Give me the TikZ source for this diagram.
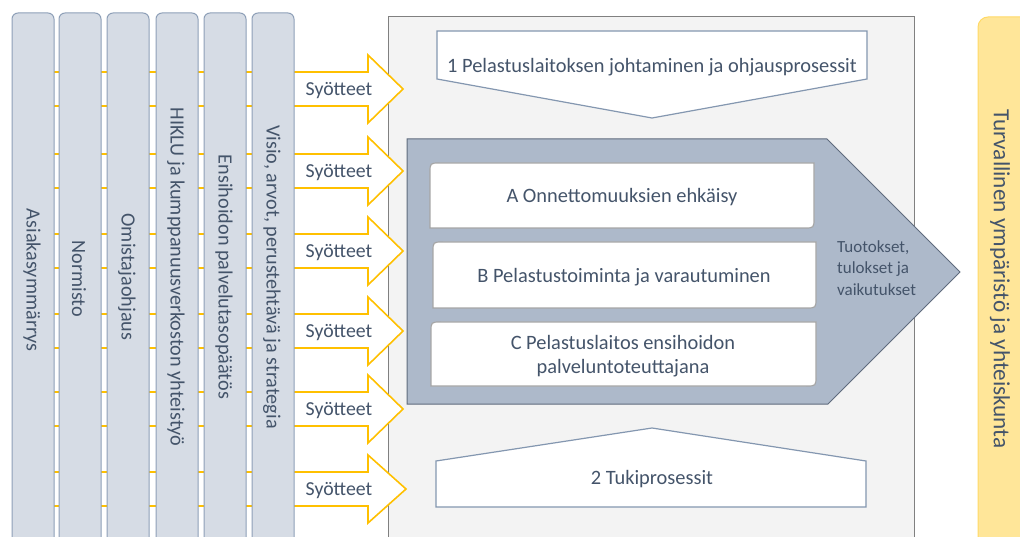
\documentclass[tikz,border=0pt]{standalone}
\usepackage{fontspec}
\setmainfont{Carlito}
\definecolor{txt}{HTML}{44546A}
\definecolor{colfill}{HTML}{D6DCE5}
\definecolor{colline}{HTML}{8EA0B8}
\definecolor{arrowyel}{HTML}{FFC000}
\definecolor{bigfill}{HTML}{F3F3F3}
\definecolor{bigline}{HTML}{808080}
\definecolor{pentline}{HTML}{8497B0}
\definecolor{chevfill}{HTML}{ADB9CA}
\definecolor{chevline}{HTML}{5F6B7D}
\definecolor{boxline}{HTML}{A6A6A6}
\definecolor{outfill}{HTML}{FFE699}
\definecolor{outline}{HTML}{FFD966}
\begin{document}
\begin{tikzpicture}[x=1pt,y=-1pt,
  colbox/.style={fill=colfill, draw=colline, line width=1pt, rounded corners=6pt},
  inarrow/.style={fill=white, draw=arrowyel, line width=1.6pt, line join=miter},
  lbl/.style={text=txt, font=\fontsize{19.8}{23}\selectfont, inner sep=0pt},
  blbl/.style={lbl, font=\fontsize{20.4}{24}\selectfont},
  collbl/.style={lbl, font=\fontsize{20.2}{24}\selectfont, rotate=-90},
  pent/.style={fill=white, draw=pentline, line width=1.2pt, line join=miter},
  inbox/.style={fill=white, draw=boxline, line width=1.2pt}
]
\useasboundingbox (0,0) rectangle (1020,537);
\clip (0,0) rectangle (1020,537);
% big process area
\path[fill=bigfill, draw=bigline, line width=1pt] (388,17) rectangle (914,560);
% input arrows
\foreach \cy/\tx/\n in {89/403/1,171/403/2,251/403/3,331/403/4,409/403/5,489/406/6}{
  \path[inarrow] (30,\cy-17) -- (368,\cy-17) -- (368,\cy-34) -- (\tx,\cy) -- (368,\cy+34) -- (368,\cy+17) -- (30,\cy+17) -- cycle;
  \node[lbl] (syote\n) at (339,\cy+2) {Syötteet};
}
% columns
\path[colbox] (12,560) -- (12,13) -- (54,13) -- (54,560) -- cycle;
\path[colbox] (59,560) -- (59,13) -- (101,13) -- (101,560) -- cycle;
\path[colbox] (107,560) -- (107,13) -- (149,13) -- (149,560) -- cycle;
\path[colbox] (156,560) -- (156,13) -- (198,13) -- (198,560) -- cycle;
\path[colbox] (204,560) -- (204,13) -- (246,13) -- (246,560) -- cycle;
\path[colbox] (252,560) -- (252,13) -- (294,13) -- (294,560) -- cycle;
\node[collbl] (c1) at (32,280) {Asiakasymmärrys};
\node[collbl] (c2) at (79,279) {Normisto};
\node[collbl] (c3) at (127,277) {Omistajaohjaus};
\node[collbl] (c4) at (176,277) {HIKLU ja kumppanuusverkoston yhteistyö};
\node[collbl] (c5) at (224,277) {Ensihoidon palvelutasopäätös};
\node[collbl] (c6) at (272,277) {Visio, arvot, perustehtävä ja strategia};
% top pentagon
\path[pent] (437,31) -- (867,31) -- (867,79) -- (652,118) -- (437,79) -- cycle;
\node[blbl] (johto) at (652,67) {1 Pelastuslaitoksen johtaminen ja ohjausprosessit};
% chevron
\path[fill=chevfill, draw=chevline, line width=1pt, line join=miter] (407,139) -- (827,139) -- (960,272) -- (828,404) -- (407,404) -- cycle;
% inner boxes
\path[inbox] (430,228) -- (430,173) .. controls (430,163) .. (440,163) -- (814,163) -- (814,218) .. controls (814,228) .. (804,228) -- cycle;
\path[inbox] (433,308) -- (433,252) .. controls (433,242) .. (443,242) -- (816,242) -- (816,298) .. controls (816,308) .. (806,308) -- cycle;
\path[inbox] (431,386) -- (431,332) .. controls (431,322) .. (441,322) -- (816,322) -- (816,376) .. controls (816,386) .. (806,386) -- cycle;
\node[blbl] (pA) at (622,197) {A Onnettomuuksien ehkäisy};
\node[blbl] (pB) at (624,277) {B Pelastustoiminta ja varautuminen};
\node[blbl, align=center, font=\fontsize{20.4}{24}\selectfont] (pC) at (623,356) {C Pelastuslaitos ensihoidon\\palveluntoteuttajana};
\node[lbl, anchor=west, align=left, font=\fontsize{17}{21.5}\selectfont] (tuot) at (837,268) {Tuotokset,\\tulokset ja\\vaikutukset};
% bottom pentagon
\path[pent] (436,507) -- (436,461) -- (652,428) -- (866,461) -- (866,507) -- cycle;
\node[blbl] (tuki) at (652,479) {2 Tukiprosessit};
% output column
\path[fill=outfill, draw=outline, line width=1pt, rounded corners=10pt] (978,560) -- (978,17) -- (1040,17) -- (1040,560) -- cycle;
\node[lbl, rotate=-90, font=\fontsize{23.2}{27}\selectfont] (turva) at (1000,279) {Turvallinen ympäristö ja yhteiskunta};
\end{tikzpicture}
\end{document}
